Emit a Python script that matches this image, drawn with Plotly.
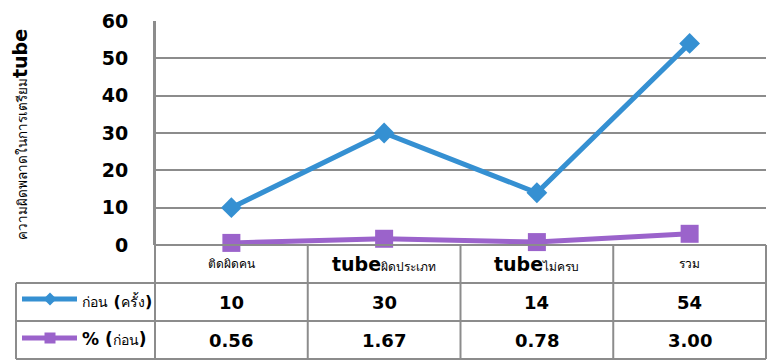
import plotly.graph_objects as go

categories = ["ติดผิดคน", "tubeผิดประเภท", "tubeไม่ครบ", "รวม"]
cat_labels = [
    "<span style='font-size:12px'>ติดผิดคน</span>",
    "<b>tube</b><span style='font-size:12px'>ผิดประเภท</span>",
    "<b>tube</b><span style='font-size:12px'>ไม่ครบ</span>",
    "<span style='font-size:12px'>รวม</span>",
]
series1_name = "ก่อน (ครั้ง)"
series1 = [10, 30, 14, 54]
series2_name = "% (ก่อน)"
series2 = [0.56, 1.67, 0.78, 3.00]
series2_text = ["0.56", "1.67", "0.78", "3.00"]
y_ticks = [0, 10, 20, 30, 40, 50, 60]

W, H = 769, 361
BLUE = "#3590D2"
PURPLE = "#9B63CB"
GRID = "#8C8C8C"
FONT = "DejaVu Sans, Verdana, sans-serif"

def px(x):
    return x / W

def py(y):
    return 1 - y / H

# layout geometry (pixels)
X_LEFT, X_LEG, X_RIGHT = 16, 155, 766
Y_TOP, Y_AX, Y_R1, Y_R2, Y_BOT = 21, 245, 283, 321, 359
col_edges = [X_LEG + i * (X_RIGHT - X_LEG) / 4 for i in range(5)]

fig = go.Figure()
xs = list(range(len(categories)))
fig.add_trace(go.Scatter(
    x=xs, y=series1, mode="lines+markers", name=series1_name,
    line=dict(color=BLUE, width=5),
    marker=dict(symbol="diamond", size=16, color=BLUE),
    showlegend=False, cliponaxis=False))
fig.add_trace(go.Scatter(
    x=xs, y=series2, mode="lines+markers", name=series2_name,
    line=dict(color=PURPLE, width=5),
    marker=dict(symbol="square", size=18, color=PURPLE),
    showlegend=False, cliponaxis=False))

# legend glyphs in the table (pixel overlay axes)
fig.add_trace(go.Scatter(
    x=[22, 50, 77], y=[299, 299, 299], mode="lines", xaxis="x2", yaxis="y2",
    line=dict(color=BLUE, width=5), showlegend=False, hoverinfo="skip"))
fig.add_trace(go.Scatter(
    x=[50], y=[299], mode="markers", xaxis="x2", yaxis="y2",
    marker=dict(symbol="diamond", size=10, color=BLUE), showlegend=False, hoverinfo="skip"))
fig.add_trace(go.Scatter(
    x=[22, 50, 77], y=[338, 338, 338], mode="lines", xaxis="x2", yaxis="y2",
    line=dict(color=PURPLE, width=5), showlegend=False, hoverinfo="skip"))
fig.add_trace(go.Scatter(
    x=[50], y=[338], mode="markers", xaxis="x2", yaxis="y2",
    marker=dict(symbol="square", size=11, color=PURPLE), showlegend=False, hoverinfo="skip"))

shapes = []
lw = 2
# table horizontal lines
shapes.append(dict(type="line", xref="paper", yref="paper", x0=px(X_LEG), x1=px(X_RIGHT),
                   y0=py(Y_AX), y1=py(Y_AX), line=dict(color=GRID, width=lw)))
for yy in (Y_R1, Y_R2, Y_BOT):
    shapes.append(dict(type="line", xref="paper", yref="paper", x0=px(X_LEFT), x1=px(X_RIGHT),
                       y0=py(yy), y1=py(yy), line=dict(color=GRID, width=lw)))
# table vertical lines
shapes.append(dict(type="line", xref="paper", yref="paper", x0=px(X_LEFT), x1=px(X_LEFT),
                   y0=py(Y_R1), y1=py(Y_BOT), line=dict(color=GRID, width=lw)))
for i, xe in enumerate(col_edges):
    top = Y_TOP if i == 0 else Y_AX
    shapes.append(dict(type="line", xref="paper", yref="paper", x0=px(xe), x1=px(xe),
                       y0=py(top), y1=py(Y_BOT), line=dict(color=GRID, width=lw)))

annotations = []
centers = [(col_edges[i] + col_edges[i + 1]) / 2 for i in range(4)]
for c, lab in zip(centers, cat_labels):
    annotations.append(dict(xref="paper", yref="paper", x=px(c), y=py(264), text=lab,
                            showarrow=False, xanchor="center", yanchor="middle",
                            font=dict(size=19, color="black", family=FONT)))
for c, v in zip(centers, series1):
    annotations.append(dict(xref="paper", yref="paper", x=px(c), y=py(302), text=f"<b>{v}</b>",
                            showarrow=False, xanchor="center", yanchor="middle",
                            font=dict(size=18, color="black", family=FONT)))
for c, v in zip(centers, series2_text):
    annotations.append(dict(xref="paper", yref="paper", x=px(c), y=py(340), text=f"<b>{v}</b>",
                            showarrow=False, xanchor="center", yanchor="middle",
                            font=dict(size=18, color="black", family=FONT)))
annotations.append(dict(xref="paper", yref="paper", x=px(80), y=py(301),
                        text="<span style='font-size:14px'>ก่อน</span><b> (</b><span style='font-size:14px'>ครั้ง</span><b>)</b>",
                        showarrow=False, xanchor="left", yanchor="middle",
                        font=dict(size=16, color="black", family=FONT)))
annotations.append(dict(xref="paper", yref="paper", x=px(80), y=py(339),
                        text="<b>% (</b><span style='font-size:14px'>ก่อน</span><b>)</b>",
                        showarrow=False, xanchor="left", yanchor="middle",
                        font=dict(size=17, color="black", family=FONT)))
# y-axis title
annotations.append(dict(xref="paper", yref="paper", x=px(20), y=py(135),
                        text="<span style='font-size:13.5px'>ความผิดพลาดในการเตรียม</span><b>tube</b>",
                        showarrow=False, textangle=-90, xanchor="center", yanchor="middle",
                        font=dict(size=19, color="black", family=FONT)))

fig.update_layout(
    width=W, height=H, margin=dict(l=0, r=0, t=0, b=0, autoexpand=False),
    paper_bgcolor="white", plot_bgcolor="rgba(0,0,0,0)",
    xaxis=dict(domain=[px(X_LEG), px(X_RIGHT)], range=[-0.5, 3.5], showgrid=False,
               showticklabels=False, zeroline=False, showline=False, ticks="", fixedrange=True),
    yaxis=dict(domain=[py(Y_AX), py(Y_TOP)], range=[0, 60], tickvals=y_ticks,
               ticktext=[f"<b>{t}</b>" for t in y_ticks],
               showgrid=True, gridcolor=GRID, gridwidth=2, zeroline=False,
               showline=True, linecolor=GRID, linewidth=2, ticks="",
               ticklabelstandoff=21,
               tickfont=dict(size=19, color="black", family=FONT)),
    xaxis2=dict(domain=[0, 1], range=[0, W], visible=False, anchor="y2", fixedrange=True),
    yaxis2=dict(domain=[0, 1], range=[H, 0], visible=False, anchor="x2", fixedrange=True),
    shapes=shapes, annotations=annotations,
)

fig.write_html("out.html")
